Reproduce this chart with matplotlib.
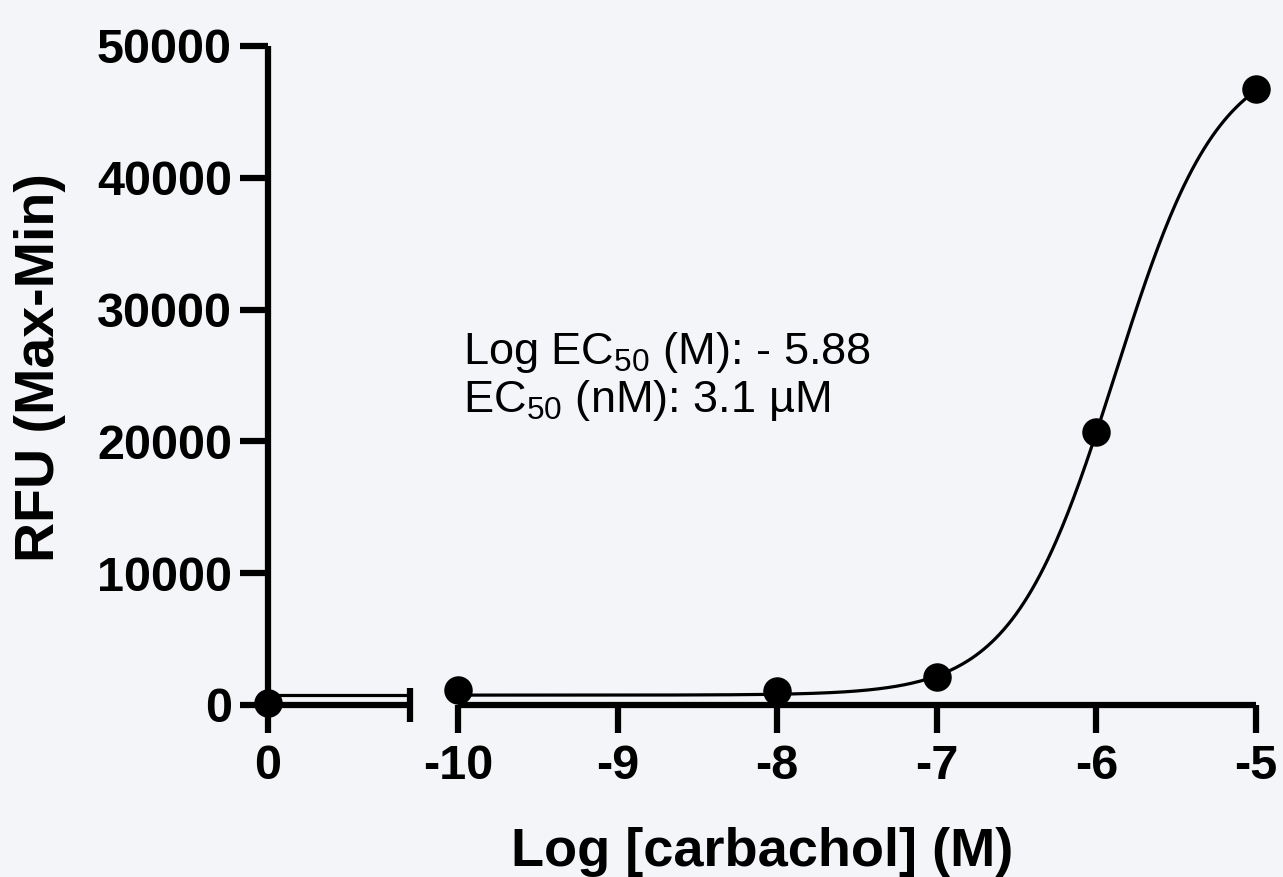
import numpy as np
import matplotlib
matplotlib.use("Agg")
import matplotlib.pyplot as plt

# measured points (x = log10 [carbachol] in M; the control sits at 0 on the broken segment)
ctrl_x = [0]
ctrl_y = [150]
log_conc = [-10, -8, -7, -6, -5]
rfu = [1150, 1100, 2100, 20700, 46700]

# fitted 4-parameter logistic
fit_bottom = 750
fit_top = 49600
fit_logec50 = -5.88
fit_hill = 1.35

y_ticks = [0, 10000, 20000, 30000, 40000, 50000]
x_ticks_right = [-10, -9, -8, -7, -6, -5]
x_ticks_left = [0]

BG = "#f3f5f8"
W, H = 1283, 877

plt.rcParams["font.family"] = ["Liberation Sans", "DejaVu Sans"]
plt.rcParams["mathtext.fontset"] = "custom"
plt.rcParams["mathtext.rm"] = "Liberation Sans"
plt.rcParams["mathtext.it"] = "Liberation Sans:italic"
plt.rcParams["mathtext.bf"] = "Liberation Sans:bold"


def logistic(x):
    return fit_bottom + (fit_top - fit_bottom) / (1 + 10 ** ((fit_logec50 - x) * fit_hill))


def px_box(x0, x1, y_top, y_bot):
    return [x0 / W, 1 - y_bot / H, (x1 - x0) / W, (y_bot - y_top) / H]


fig = plt.figure(figsize=(W / 100, H / 100), dpi=100, facecolor=BG)
ax_l = fig.add_axes(px_box(268, 410, 46, 705))
ax_r = fig.add_axes(px_box(458, 1256, 46, 705), sharey=ax_l)

spine_w = 4.5
tick_len = 20
for ax in (ax_l, ax_r):
    ax.set_facecolor("none")
    for s in ax.spines.values():
        s.set_linewidth(spine_w)
        s.set_capstyle("butt")
    ax.spines["top"].set_visible(False)
    ax.spines["right"].set_visible(False)
    ax.tick_params(axis="both", width=spine_w, length=tick_len, labelsize=35)
    ax.tick_params(axis="x", pad=8)

ax_r.spines["left"].set_visible(False)
ax_r.tick_params(axis="y", left=False, labelleft=False)

ax_l.set_ylim(0, 50000)
ax_l.set_yticks(y_ticks)
ax_l.set_yticklabels([str(v) for v in y_ticks], fontweight="bold")
ax_l.tick_params(axis="y", pad=6)

px_per_unit = (1256 - 458) / 5
ax_l.set_xlim(0, (410 - 268) / px_per_unit)
ax_l.set_xticks(x_ticks_left)
ax_l.set_xticklabels([str(v) for v in x_ticks_left], fontweight="bold")

ax_r.set_xlim(-10, -5)
ax_r.set_xticks(x_ticks_right)
ax_r.set_xticklabels([str(v) for v in x_ticks_right], fontweight="bold")

# break mark at the end of the left segment
ax_l.plot([1, 1], [-0.026, 0.026], transform=ax_l.transAxes, color="black",
          lw=spine_w, clip_on=False, solid_capstyle="butt")

# fitted curve
xs = np.linspace(-10, -5, 400)
ax_r.plot(xs, logistic(xs), color="black", lw=2.3, zorder=3, clip_on=False)
ax_l.plot(ax_l.get_xlim(), [fit_bottom, fit_bottom], color="black", lw=2.3, zorder=3, clip_on=False)

# data points
ms = 19.5
ax_l.plot(ctrl_x, ctrl_y, "o", color="black", ms=ms, zorder=5, clip_on=False)
ax_r.plot(log_conc, rfu, "o", color="black", ms=ms, zorder=5, clip_on=False)

# labels
fig.text(762 / W, 1 - 852 / H, "Log [carbachol] (M)", ha="center", va="center",
         fontsize=39, fontweight="bold")
fig.text(40 / W, 1 - 368 / H, "RFU (Max-Min)", ha="center", va="center",
         rotation=90, fontsize=40, fontweight="bold")

fig.text(463 / W, 1 - 364 / H, "Log EC$_{50}$ (M): - 5.88", ha="left", va="baseline", fontsize=32.5)
fig.text(463 / W, 1 - 412 / H, "EC$_{50}$ (nM): 3.1 µM", ha="left", va="baseline", fontsize=32.5)

fig.savefig("out.png", dpi=100, facecolor=BG)
